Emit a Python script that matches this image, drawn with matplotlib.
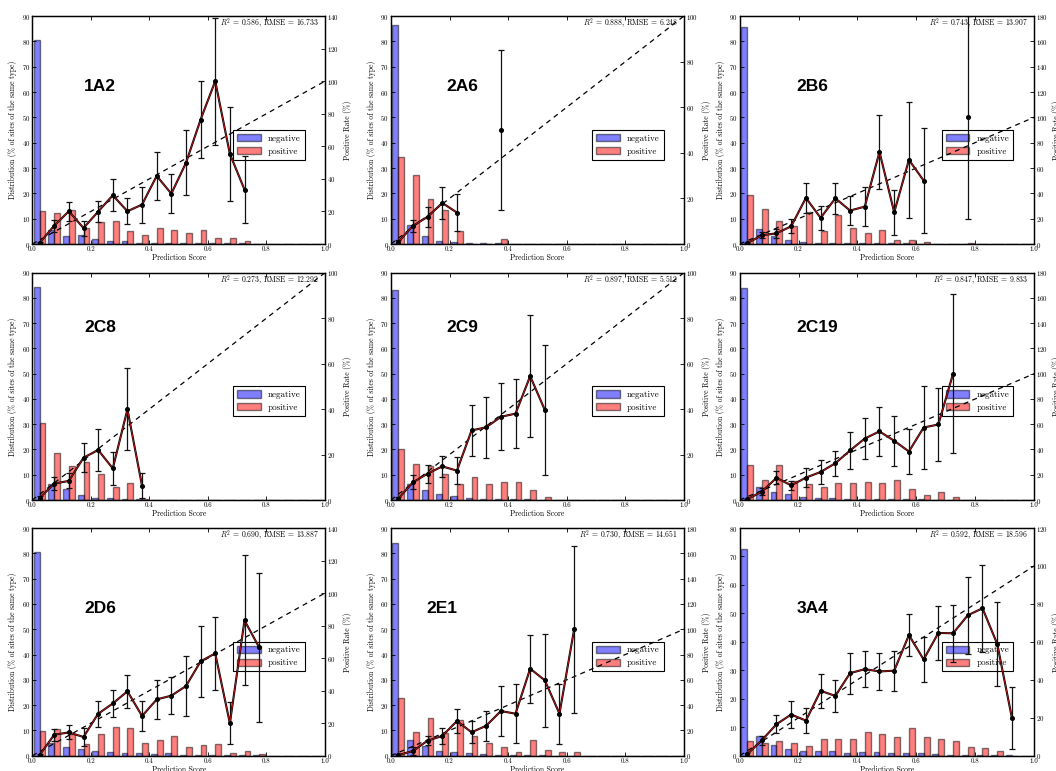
import numpy as np
import matplotlib
matplotlib.use("Agg")
import matplotlib.pyplot as plt

plt.rcParams['font.family'] = ['cmr10', 'DejaVu Serif']
plt.rcParams['mathtext.fontset'] = 'cm'
plt.rcParams['axes.formatter.use_mathtext'] = True
plt.rcParams['axes.unicode_minus'] = False

nan = np.nan
bin_width = 0.05
n_bins = 20

# ---------------- data ----------------
names = ["1A2", "2A6", "2B6", "2C8", "2C9", "2C19", "2D6", "2E1", "3A4"]

neg_1A2 = [80.5, 5.5, 3.0, 3.5, 2.0, 1.2, 1.2, 0.5, 0.5, 0.5, 0.3, 0.3, 0.3, 0.2, 0.2, 0.1, 0.1, 0.0, 0.0, 0.0]
pos_1A2 = [13.0, 12.2, 13.5, 6.5, 8.7, 9.2, 5.2, 3.5, 6.5, 5.7, 4.5, 5.7, 2.5, 2.2, 1.0, 0, 0, 0, 0, 0]
rate_1A2 = [0.6, 11.3, 20.1, 9.8, 19.9, 29.9, 20.1, 24.2, 41.8, 30.9, 49.8, 76.4, 100.0, 55.3, 33.4]
err_1A2 = [0.6, 3.7, 5.7, 4.6, 6.5, 9.8, 7.9, 11.0, 14.5, 12.0, 20.0, 23.8, 39.0, 28.8, 20.8]

neg_2A6 = [86.5, 7.5, 3.0, 1.3, 0.8, 0.4, 0.2, 0.2, 0.1, 0.1, 0.1, 0.1, 0.1, 0.1, 0.1, 0.1, 0.1, 0.1, 0.1, 0.0]
pos_2A6 = [34.5, 27.2, 17.8, 13.5, 5.2, 0, 0, 2.0, 0, 0, 0, 0, 0, 0, 0, 0, 0, 0, 0, 0]
rate_2A6 = [0.9, 8.0, 11.9, 18.0, 13.8, nan, nan, 49.9]
err_2A6 = [0.9, 2.6, 4.4, 7.2, 8.0, nan, nan, 35.0]

neg_2B6 = [85.5, 6.0, 3.3, 1.5, 0.7, 0.5, 0.5, 0.4, 0.3, 0.2, 0.2, 0.2, 0.1, 0.1, 0.1, 0.1, 0.1, 0, 0, 0]
pos_2B6 = [19.5, 13.7, 9.2, 7.2, 12.8, 5.0, 11.5, 6.5, 4.3, 5.7, 1.4, 1.4, 0.6, 0, 0, 0.5, 0, 0, 0, 0]
rate_2B6 = [0.5, 6.9, 8.4, 14.0, 36.4, 20.6, 36.1, 26.4, 29.5, 72.7, 25.0, 66.4, 50.1, nan, nan, 100.0]
err_2B6 = [0.5, 2.5, 3.7, 5.7, 11.7, 9.6, 12.3, 11.6, 15.5, 29.0, 17.9, 46.0, 41.4, nan, nan, 80.0]

neg_2C8 = [84.5, 6.5, 4.2, 2.0, 0.8, 0.6, 0.3, 0.4, 0, 0, 0, 0, 0, 0, 0, 0, 0, 0, 0, 0]
pos_2C8 = [30.3, 18.5, 13.5, 15.2, 10.2, 5.0, 6.7, 0.5, 0, 0, 0, 0, 0, 0, 0, 0, 0, 0, 0, 0]
rate_2C8 = [0.9, 7.2, 8.4, 18.6, 22.0, 13.9, 39.9, 6.2]
err_2C8 = [0.9, 3.0, 3.3, 6.3, 9.1, 7.3, 18.0, 5.5]

neg_2C9 = [83.0, 6.5, 4.0, 2.2, 1.5, 0.7, 0.3, 0.3, 0.4, 0.2, 0.1, 0, 0, 0, 0, 0, 0, 0, 0, 0]
pos_2C9 = [20.2, 14.3, 13.5, 10.3, 6.5, 9.0, 6.5, 7.1, 7.1, 3.8, 1.2, 0, 0, 0, 0, 0, 0, 0, 0, 0]
rate_2C9 = [0.6, 7.8, 11.6, 14.8, 12.9, 30.6, 32.0, 36.6, 38.0, 54.5, 39.6]
err_2C9 = [0.6, 3.1, 4.0, 4.5, 6.0, 11.4, 13.5, 14.8, 15.2, 26.7, 28.4]

neg_2C19 = [84.0, 5.0, 3.0, 2.5, 1.2, 0.8, 0.7, 0.5, 0.5, 0.3, 0.3, 0.3, 0.2, 0.1, 0.1, 0, 0, 0, 0, 0]
pos_2C19 = [13.8, 8.0, 13.8, 7.5, 6.4, 5.2, 6.9, 6.9, 7.3, 6.9, 7.9, 4.3, 2.0, 3.2, 1.0, 0, 0, 0, 0, 0]
rate_2C19 = [0.5, 6.6, 17.5, 11.6, 17.7, 22.2, 29.1, 39.2, 48.7, 54.3, 46.9, 38.4, 57.4, 59.8, 100.0]
err_2C19 = [0.5, 2.6, 5.2, 3.7, 7.3, 9.4, 9.8, 14.3, 16.5, 19.3, 19.7, 17.6, 32.5, 29.0, 63.0]

neg_2D6 = [80.5, 5.0, 3.5, 2.5, 1.8, 1.5, 1.2, 1.2, 0.8, 1.0, 0.3, 0.3, 0.2, 0.2, 0.2, 0.2, 0, 0, 0, 0]
pos_2D6 = [9.8, 10.5, 8.5, 4.8, 8.7, 11.2, 11.0, 5.2, 6.3, 7.8, 3.3, 4.2, 4.5, 1.2, 1.8, 0.6, 0, 0, 0, 0]
rate_2D6 = [0.4, 12.9, 14.3, 11.5, 25.8, 32.1, 39.6, 24.4, 34.6, 36.9, 42.8, 58.0, 62.9, 19.9, 83.2, 66.6]
err_2D6 = [0.4, 3.6, 4.3, 5.3, 7.9, 8.4, 10.2, 9.2, 11.8, 11.5, 18.6, 21.8, 22.2, 13.0, 40.0, 46.0]

neg_2E1 = [84.0, 6.3, 4.0, 2.0, 1.3, 1.2, 0.5, 0.3, 0.3, 0.2, 0.1, 0, 0, 0, 0, 0, 0, 0, 0, 0]
pos_2E1 = [22.8, 9.2, 15.0, 9.0, 14.2, 7.8, 5.0, 3.5, 1.5, 6.3, 2.2, 1.4, 1.4, 0, 0, 0, 0, 0, 0, 0]
rate_2E1 = [0.5, 3.7, 11.9, 15.6, 27.4, 18.5, 23.7, 35.3, 33.2, 68.8, 59.6, 33.2, 99.9]
err_2E1 = [0.5, 3.0, 3.3, 6.0, 9.3, 8.8, 11.9, 19.5, 23.4, 27.0, 37.0, 23.7, 65.8]

neg_3A4 = [72.5, 7.0, 3.7, 2.3, 1.8, 1.5, 1.8, 1.0, 1.3, 1.3, 1.1, 0.8, 0.8, 0.5, 0.4, 0.3, 0.2, 0.2, 0.2, 0]
pos_3A4 = [5.3, 4.3, 5.0, 4.6, 3.3, 6.0, 5.8, 5.9, 8.5, 7.6, 6.7, 9.6, 6.5, 5.9, 5.1, 3.2, 2.6, 1.8, 0, 0]
rate_3A4 = [0.7, 8.1, 16.6, 21.7, 18.5, 34.2, 31.5, 43.5, 45.6, 44.4, 44.8, 63.6, 50.7, 64.7, 64.5, 74.0, 77.7, 58.9, 19.9]
err_3A4 = [0.7, 2.2, 4.9, 6.9, 6.7, 9.0, 8.4, 10.8, 9.5, 9.7, 10.5, 11.0, 11.8, 14.2, 15.0, 20.3, 23.0, 22.3, 16.5]

r2_values = ["0.586", "0.888", "0.743", "0.273", "0.897", "0.847", "0.690", "0.730", "0.592"]
rmse_values = ["16.733", "6.248", "13.907", "12.292", "5.512", "9.833", "13.887", "14.651", "18.596"]
left_ymax = [90, 90, 90, 90, 90, 90, 90, 90, 80]
right_ymax = [140, 100, 180, 100, 100, 180, 140, 180, 120]

negs = [neg_1A2, neg_2A6, neg_2B6, neg_2C8, neg_2C9, neg_2C19, neg_2D6, neg_2E1, neg_3A4]
poss = [pos_1A2, pos_2A6, pos_2B6, pos_2C8, pos_2C9, pos_2C19, pos_2D6, pos_2E1, pos_3A4]
rates = [rate_1A2, rate_2A6, rate_2B6, rate_2C8, rate_2C9, rate_2C19, rate_2D6, rate_2E1, rate_3A4]
errs = [err_1A2, err_2A6, err_2B6, err_2C8, err_2C9, err_2C19, err_2D6, err_2E1, err_3A4]

# ---------------- layout ----------------
W, H = 1056, 771
col_x = [(32.3, 325.0), (391.0, 684.0), (739.7, 1034.0)]
row_y = [(16.0, 244.0), (272.7, 500.0), (528.0, 755.7)]
label_pos = [(0.23, 0.69), (0.245, 0.69), (0.247, 0.69),
             (0.231, 0.758), (0.242, 0.758), (0.264, 0.758),
             (0.231, 0.646), (0.174, 0.646), (0.247, 0.646)]

fig = plt.figure(figsize=(W / 100, H / 100), dpi=100)
fig.patch.set_facecolor('white')

bin_left = np.arange(n_bins) * bin_width
bar_w = bin_width * 0.4

for i, name in enumerate(names):
    r, c = divmod(i, 3)
    x0, x1 = col_x[c]
    yt, yb = row_y[r]
    rect = [x0 / W, 1 - yb / H, (x1 - x0) / W, (yb - yt) / H]
    ax = fig.add_axes(rect)
    ax2 = ax.twinx()

    neg = np.array(negs[i])
    pos = np.array(poss[i])
    ax.bar(bin_left + bin_width * 0.1, neg, width=bar_w, align='edge',
           color='blue', alpha=0.5, edgecolor='black', linewidth=1.0, label='negative')
    ax.bar(bin_left + bin_width * 0.5, pos, width=bar_w, align='edge',
           color='red', alpha=0.5, edgecolor='black', linewidth=1.0, label='positive')
    ax.set_xlim(0, 1)
    ax.set_ylim(0, left_ymax[i])
    ax.set_yticks(np.arange(0, left_ymax[i] + 1, 10))
    ax.set_xticks([0.0, 0.2, 0.4, 0.6, 0.8, 1.0])
    ax.set_xticklabels(['0.0', '0.2', '0.4', '0.6', '0.8', '1.0'])
    ax.tick_params(axis='both', direction='in', length=3, width=0.6, labelsize=5, pad=1.5)
    ax.tick_params(axis='x', top=True)
    ax.tick_params(axis='y', right=False)
    ax.set_xlabel('Prediction Score', fontsize=5.5, labelpad=1.5)
    ax.set_ylabel('Distribution (% of sites of the same type)', fontsize=5.5, labelpad=3)
    leg = ax.legend(loc='lower left', bbox_to_anchor=(0.687, 0.37), borderaxespad=0,
                    fontsize=6.5, fancybox=False, framealpha=1, edgecolor='black',
                    handlelength=2.6, handleheight=0.9, borderpad=0.45, labelspacing=0.45)
    leg.get_frame().set_linewidth(0.8)

    rate = np.array(rates[i], dtype=float)
    err = np.array(errs[i], dtype=float)
    xc = bin_left[:len(rate)] + bin_width / 2
    ax2.plot([0, 1], [0, 100], color='black', linestyle=(0, (4, 3.5)), linewidth=0.9)
    ax2.errorbar(xc, rate, yerr=err, fmt='none', ecolor='#111111', elinewidth=0.9,
                 capsize=2, capthick=0.9)
    ax2.plot(xc, rate, color='black', linewidth=1.5)
    ax2.plot(xc, rate, color='#b01818', linewidth=0.7, marker='o', markersize=2.6,
             markerfacecolor='black', markeredgecolor='black')
    ax2.set_ylim(0, right_ymax[i])
    ax2.set_yticks(np.arange(0, right_ymax[i] + 1, 20))
    ax2.set_xlim(0, 1)
    ax2.tick_params(axis='y', direction='in', length=3, width=0.6, labelsize=5, pad=1.5)
    ax2.set_ylabel('Positive Rate (%)', fontsize=5.5, labelpad=3)

    ax2.text(0.98, 0.965, r'$R^2$ = %s, RMSE = %s' % (r2_values[i], rmse_values[i]),
             transform=ax2.transAxes, ha='right', va='center', fontsize=5.5)
    ax2.text(label_pos[i][0], label_pos[i][1], name, transform=ax2.transAxes,
             ha='center', va='center', fontsize=12.5, fontweight='bold',
             family=['Liberation Sans', 'DejaVu Sans'])

    for sp in list(ax.spines.values()) + list(ax2.spines.values()):
        sp.set_linewidth(0.9)

fig.savefig('out.png', dpi=100)
